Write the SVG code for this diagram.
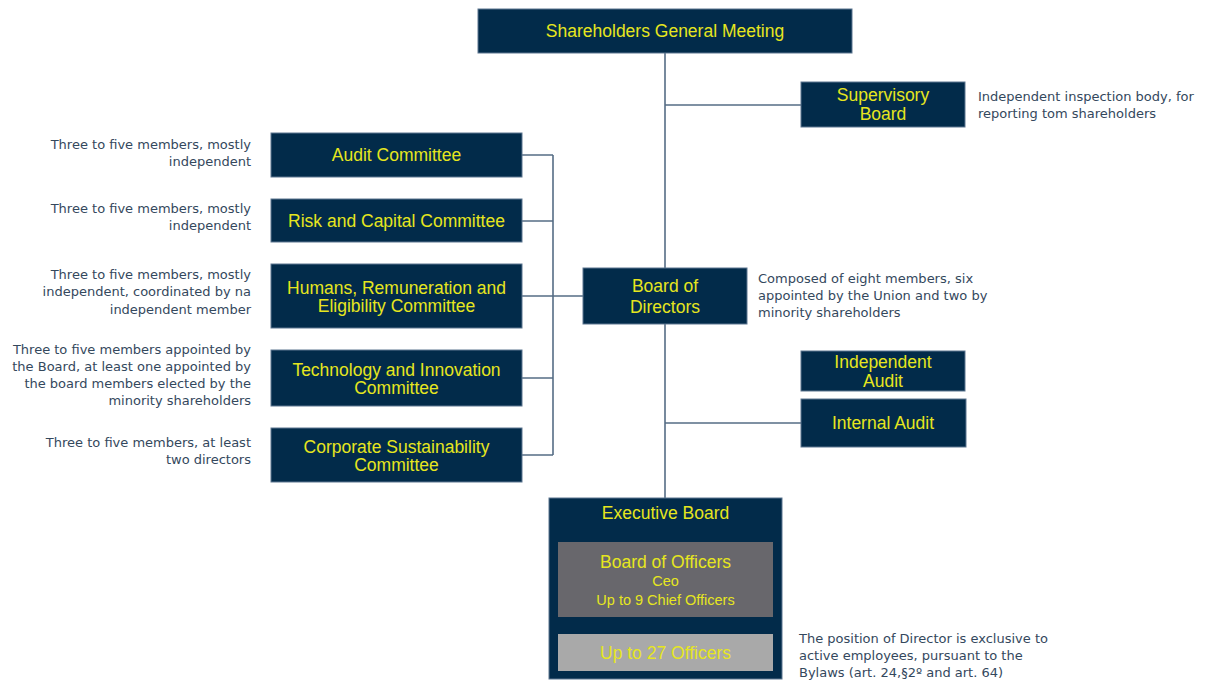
<svg xmlns="http://www.w3.org/2000/svg" width="1208" height="682" viewBox="0 0 1208 682">
<style>
.box{fill:#022b4a;stroke:#5d7690;stroke-width:1}
.t{font-family:"Liberation Sans",Arial,sans-serif;font-size:17.5px;fill:#e6e61e;text-anchor:middle}
.s{font-family:"DejaVu Sans",sans-serif;font-size:13px;fill:#34485d}
.r{text-anchor:end}
.ln{stroke:#566d85;stroke-width:1.6;fill:none}
</style>
<rect width="1208" height="682" fill="#ffffff"/>
<g id="connectors">
<path class="ln" d="M665,53 V268 M665,324 V498 M665,105 H801 M665,423 H801"/>
<path class="ln" d="M522,155 H553 M522,221 H553 M522,296 H583 M522,378 H553 M522,455 H553 M553,155 V455"/>
</g>
<g id="sgm"><rect class="box" x="478" y="9" width="374" height="44"/><text class="t" x="665" y="37">Shareholders General Meeting</text></g>
<g id="supervisory"><rect class="box" x="801" y="82" width="164" height="45"/><text class="t" x="883" y="101">Supervisory</text><text class="t" x="883" y="120">Board</text></g>
<g id="supervisory-note"><text class="s" x="978" y="101">Independent inspection body, for</text><text class="s" x="978" y="118">reporting tom shareholders</text></g>
<g id="audit"><rect class="box" x="271" y="133" width="251" height="44"/><text class="t" x="396.5" y="161">Audit Committee</text></g>
<g id="audit-note"><text class="s r" x="251" y="149">Three to five members, mostly</text><text class="s r" x="251" y="166">independent</text></g>
<g id="risk"><rect class="box" x="271" y="199" width="251" height="43"/><text class="t" x="396.5" y="227">Risk and Capital Committee</text></g>
<g id="risk-note"><text class="s r" x="251" y="213">Three to five members, mostly</text><text class="s r" x="251" y="230">independent</text></g>
<g id="humans"><rect class="box" x="271" y="264" width="251" height="64"/><text class="t" x="396.5" y="294">Humans, Remuneration and</text><text class="t" x="396.5" y="312">Eligibility Committee</text></g>
<g id="humans-note"><text class="s r" x="251" y="279">Three to five members,  mostly</text><text class="s r" x="251" y="296">independent, coordinated by na</text><text class="s r" x="251" y="314">independent member</text></g>
<g id="tech"><rect class="box" x="271" y="350" width="251" height="56"/><text class="t" x="396.5" y="376">Technology and Innovation</text><text class="t" x="396.5" y="394">Committee</text></g>
<g id="tech-note"><text class="s r" x="251" y="354">Three to five members appointed by</text><text class="s r" x="251" y="371">the Board, at least one appointed by</text><text class="s r" x="251" y="388">the board members elected by the</text><text class="s r" x="251" y="405">minority shareholders</text></g>
<g id="csc"><rect class="box" x="271" y="428" width="251" height="54"/><text class="t" x="396.5" y="453">Corporate Sustainability</text><text class="t" x="396.5" y="471">Committee</text></g>
<g id="csc-note"><text class="s r" x="251" y="447">Three to five members,  at least</text><text class="s r" x="251" y="464">two directors</text></g>
<g id="bod"><rect class="box" x="583" y="268" width="164" height="56"/><text class="t" x="665" y="292">Board of</text><text class="t" x="665" y="313">Directors</text></g>
<g id="bod-note"><text class="s" x="758" y="283">Composed of eight members, six</text><text class="s" x="758" y="300">appointed by the Union and two by</text><text class="s" x="758" y="317">minority shareholders</text></g>
<g id="independent-audit"><rect class="box" x="801" y="351" width="164" height="40"/><text class="t" x="883" y="368">Independent</text><text class="t" x="883" y="387">Audit</text></g>
<g id="internal-audit"><rect class="box" x="801" y="399" width="165" height="48"/><text class="t" x="883" y="429">Internal Audit</text></g>
<g id="executive"><rect class="box" x="549" y="498" width="233" height="181"/><text class="t" x="665.5" y="519">Executive Board</text>
<g id="officers"><rect x="558" y="542" width="215" height="75" fill="#68676c"/><text class="t" x="665.5" y="568">Board of Officers</text><text class="t" x="665.5" y="586" style="font-size:14.5px">Ceo</text><text class="t" x="665.5" y="605" style="font-size:14.5px">Up to 9 Chief Officers</text></g>
<g id="officers27"><rect x="558" y="634" width="215" height="37" fill="#a9a9a9"/><text class="t" x="665.5" y="659">Up to 27 Officers</text></g>
</g>
<g id="executive-note"><text class="s" x="799" y="643">The position of Director is exclusive to</text><text class="s" x="799" y="660">active employees, pursuant to the</text><text class="s" x="799" y="677">Bylaws (art. 24,§2º and art. 64)</text></g>
</svg>
